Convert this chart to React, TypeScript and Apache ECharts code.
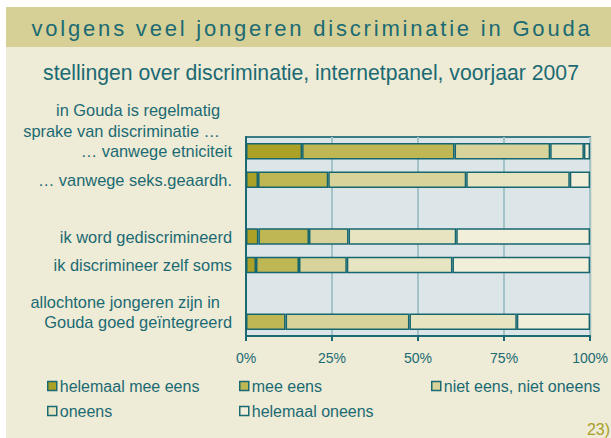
import React, { useEffect, useRef } from "react";
import * as echarts from "echarts";

const titleText = "volgens veel jongeren discriminatie in Gouda";
const subtitleText = "stellingen over discriminatie, internetpanel, voorjaar 2007";
const footnoteText = "23)";
const categories = [
  "… vanwege etniciteit",
  "… vanwege seks.geaardh.",
  "",
  "ik word gediscrimineerd",
  "ik discrimineer zelf soms",
  "",
  "Gouda goed geïntegreerd",
];
const extraLabels = [
  { text: "in Gouda is regelmatig", y: 110 },
  { text: "sprake van discriminatie …", y: 131 },
  { text: "allochtone jongeren zijn in", y: 302 },
];
const seriesNames = [
  "helemaal mee eens",
  "mee eens",
  "niet eens, niet oneens",
  "oneens",
  "helemaal oneens",
];
const helemaalMeeEens = [16.3, 3.5, null, 3.6, 2.9, null, 0];
const meeEens = [44.3, 20.4, null, 14.7, 12.5, null, 11.5];
const nietEensNietOneens = [27.8, 40.1, null, 11.5, 13.9, null, 36.0];
const oneens = [9.8, 30.1, null, 31.3, 30.7, null, 31.2];
const helemaalOneens = [1.8, 5.9, null, 38.9, 40.0, null, 21.3];
const seriesData = [helemaalMeeEens, meeEens, nietEensNietOneens, oneens, helemaalOneens];
const colors = ["#ABA127", "#BFB654", "#D7D39A", "#E7E4C1", "#F1EEDA"];

const TEAL = "#1B6A73";
const FONT = "'Liberation Sans', Arial, sans-serif";

export default function App() {
  const ref = useRef<HTMLDivElement>(null);
  useEffect(() => {
    if (!ref.current) return;
    const el = ref.current;
    const chart = echarts.init(el, undefined, { renderer: "svg" });
    const legendPos = [
      { left: 47, top: 378 },
      { left: 239, top: 378 },
      { left: 431, top: 378 },
      { left: 47, top: 403 },
      { left: 239, top: 403 },
    ];
    const spaceTitle = () => {
      el.querySelectorAll("text").forEach((t) => {
        if (t.textContent === titleText) {
          (t as SVGTextElement).style.letterSpacing = "2.8px";
        }
      });
    };
    chart.on("finished", spaceTitle);
    chart.setOption({
      animation: false,
      backgroundColor: "#ffffff",
      textStyle: { fontFamily: FONT },
      graphic: [
        { type: "rect", z: -10, shape: { x: 6, y: 47, width: 605, height: 391 }, style: { fill: "#EEEBD6" } },
        { type: "rect", z: -10, shape: { x: 6, y: 7, width: 605, height: 40 }, style: { fill: "#D6D096" } },
        {
          type: "text", x: 312, y: 28,
          style: { text: titleText, fill: TEAL, font: `22px ${FONT}`, textAlign: "center", textVerticalAlign: "middle" },
        },
        {
          type: "text", x: 311, y: 72,
          style: { text: subtitleText, fill: TEAL, font: `21.2px ${FONT}`, textAlign: "center", textVerticalAlign: "middle" },
        },
        ...extraLabels.map((l) => ({
          type: "text", x: 220, y: l.y,
          style: { text: l.text, fill: TEAL, font: `16.4px ${FONT}`, textAlign: "right", textVerticalAlign: "middle" },
        })),
        {
          type: "text", x: 610, y: 429,
          style: { text: footnoteText, fill: "#A99E2A", font: `16px ${FONT}`, textAlign: "right", textVerticalAlign: "middle" },
        },
      ],
      grid: {
        left: 246, right: 17, top: 137, bottom: 102,
        show: true, backgroundColor: "#DCE6E8", borderColor: "#3A7D86", borderWidth: 2,
      },
      legend: seriesNames.map((n, i) => ({
        data: [n],
        left: legendPos[i].left,
        top: legendPos[i].top,
        icon: "rect",
        itemWidth: 9,
        itemHeight: 9,
        itemStyle: { borderColor: TEAL, borderWidth: 1.5 },
        textStyle: { color: TEAL, fontSize: 16, fontFamily: FONT, padding: [0, 0, 0, -2] },
        selectedMode: false,
        padding: 0,
      })),
      xAxis: {
        type: "value", min: 0, max: 100, interval: 25,
        axisLine: { show: true, lineStyle: { color: TEAL, width: 2 } },
        axisTick: { show: true, length: 5, lineStyle: { color: TEAL, width: 2 } },
        axisLabel: { formatter: "{value}%", color: TEAL, fontSize: 14, margin: 15, fontFamily: FONT },
        splitLine: { show: true, lineStyle: { color: "#A4C3C8", width: 2 } },
      },
      yAxis: {
        type: "category", inverse: true, data: categories,
        axisLine: { show: true, lineStyle: { color: TEAL, width: 2 } },
        axisTick: { show: false },
        axisLabel: { color: TEAL, fontSize: 16.4, margin: 14, fontFamily: FONT },
      },
      series: seriesNames.map((n, i) => ({
        name: n,
        type: "bar",
        stack: "total",
        data: seriesData[i],
        barWidth: 16.5,
        itemStyle: { color: colors[i], borderColor: "#16666F", borderWidth: 1.5 },
      })),
    });
    spaceTitle();
    return () => chart.dispose();
  }, []);
  return <div ref={ref} style={{ position: "fixed", left: 0, top: 0, width: 611, height: 438 }} />;
}
